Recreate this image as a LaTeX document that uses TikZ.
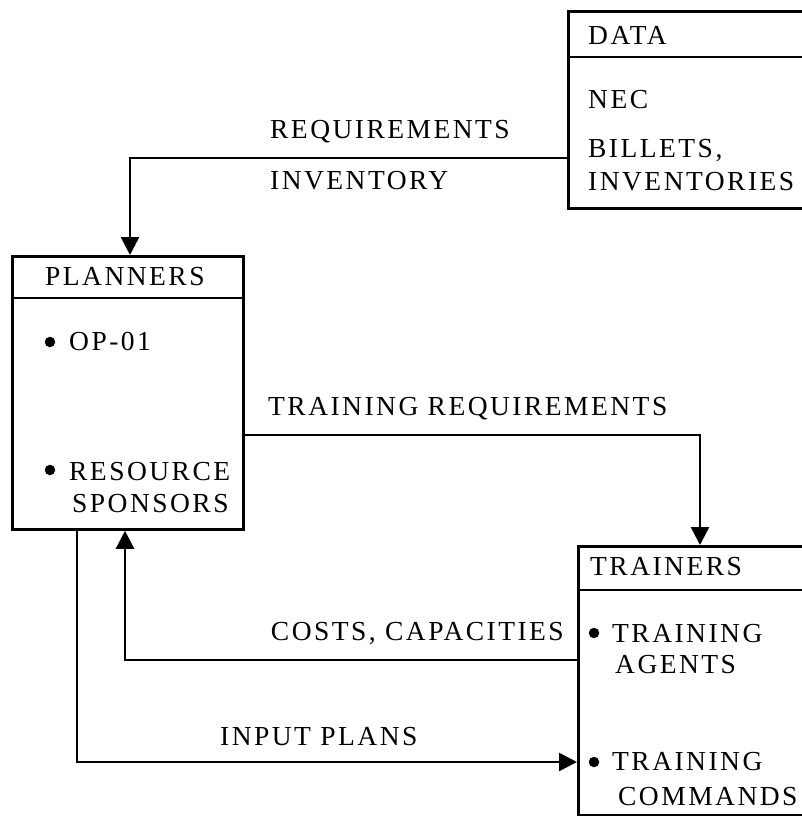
\documentclass[tikz,border=0pt]{standalone}
\usepackage{fontspec}
\setmainfont{Liberation Serif}[LetterSpace=9]
\usetikzlibrary{arrows.meta,calc}
\begin{document}
\begin{tikzpicture}[x=1pt,y=-1pt,
  box/.style={draw,line width=2.8pt,rectangle,inner sep=0,anchor=north west},
  conn/.style={line width=2.6pt},
  arr/.style={conn,-{Triangle[length=18pt,width=18pt]}},
  txt/.style={anchor=base west,inner sep=0,font=\fontsize{27.5}{32}\selectfont},
  dot/.style={circle,fill,inner sep=0,minimum size=10.5pt}]
\useasboundingbox (0,0) rectangle (802,816);
% boxes
\node[box,minimum width=236pt,minimum height=197pt] (data) at (567,10) {};
\node[box,minimum width=231pt,minimum height=273pt] (plan) at (11,255) {};
\node[box,minimum width=227pt,minimum height=269pt] (train) at (577,545) {};
\draw[conn] (data.west |- 0,57) -- (data.east |- 0,57);
\draw[conn] (plan.west |- 0,298) -- (plan.east |- 0,298);
\draw[conn] (train.west |- 0,590) -- (train.east |- 0,590);
% box texts
\node[txt] (t1) at (588,45) {DATA};
\node[txt] (t2) at (588,108) {NEC};
\node[txt] (t3) at (588,157) {BILLETS,};
\node[txt] (t4) at (588,190) {INVENTORIES};
\node[txt] (t5) at (45,285) {PLANNERS};
\node[dot] (d1) at (50,342) {};
\node[txt] (t6) at (69,350) {OP-01};
\node[dot] (d2) at (50,470) {};
\node[txt] (t7) at (69,480) {RESOURCE};
\node[txt] (t8) at (72,512) {SPONSORS};
\node[txt] (t9) at (590,575) {TRAINERS};
\node[dot] (d3) at (594,633) {};
\node[txt] (t10) at (612,642) {TRAINING};
\node[txt] (t11) at (615,673) {AGENTS};
\node[dot] (d4) at (594,762) {};
\node[txt] (t12) at (612,770) {TRAINING};
\node[txt] (t13) at (618,805) {COMMANDS};
% connectors
\coordinate (c1) at (130,158);
\draw[arr] (data.west |- c1) -- (c1) -- (c1 |- plan.north);
\node[txt] (l1) at (270,138) {REQUIREMENTS};
\node[txt] (l2) at (270,189) {INVENTORY};
\coordinate (c2) at (700,435);
\draw[arr] (plan.east |- c2) -- (c2) -- (c2 |- train.north);
\node[txt] (l3) at (268,415) {TRAINING REQUIREMENTS};
\coordinate (c3) at (125,660);
\draw[arr] (train.west |- c3) -- (c3) -- (c3 |- plan.south);
\node[txt,anchor=base east] (l4) at (564,640) {COSTS, CAPACITIES};
\coordinate (c4) at (77,762);
\draw[arr] (c4 |- plan.south) -- (c4) -- (train.west |- c4);
\node[txt] (l5) at (220,745) {INPUT PLANS};
\end{tikzpicture}
\end{document}
